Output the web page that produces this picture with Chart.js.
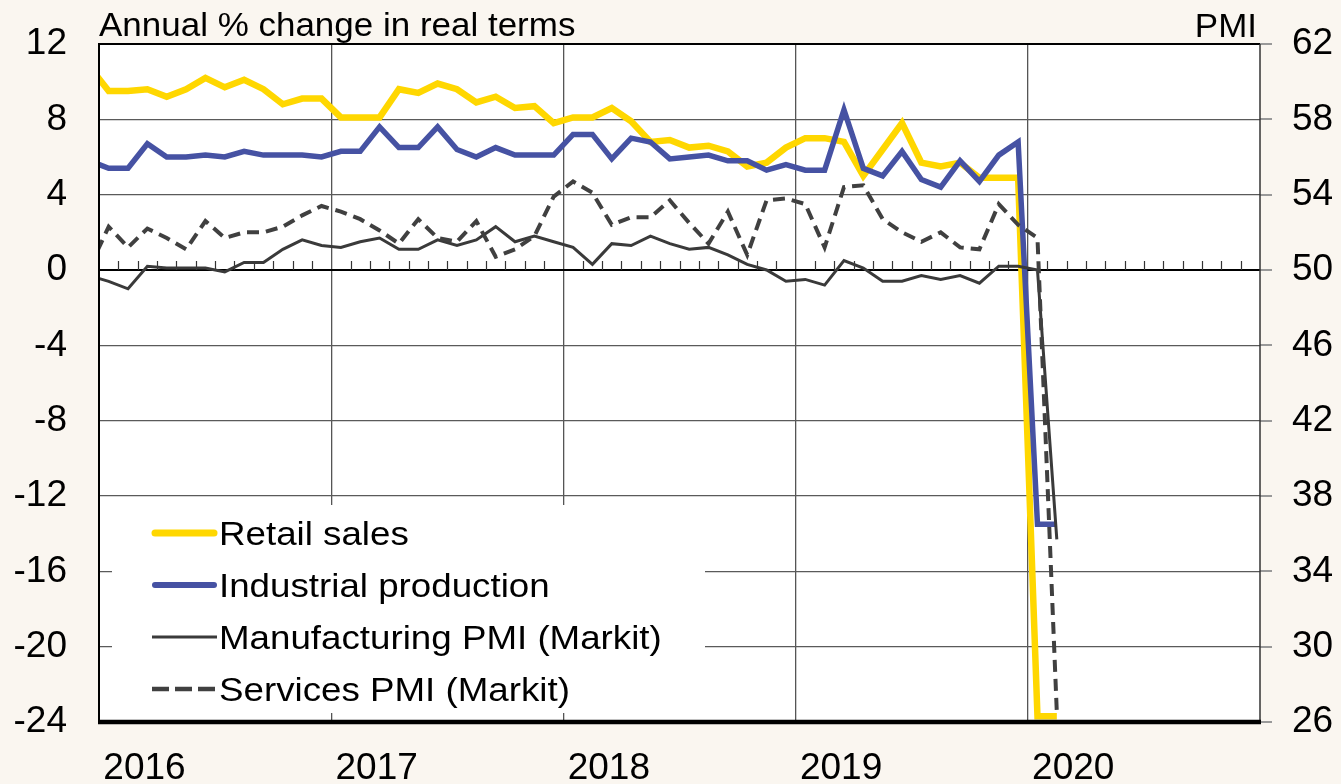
<!DOCTYPE html>
<html>
<head>
<meta charset="utf-8">
<script src="https://cdn.jsdelivr.net/npm/chart.js@4.4.1/dist/chart.umd.min.js"></script>
<style>
  html, body { margin: 0; padding: 0; background: #faf6f0; }
  canvas { display: block; }
</style>
</head>
<body>
<canvas id="chart" width="1341" height="784"></canvas>
<script>
// months of the series (Dec 2015 sits just left of the axis and gets clipped)
const months = [
  '2015-12',
  '2016-01', '2016-02', '2016-03', '2016-04', '2016-05', '2016-06', '2016-07', '2016-08', '2016-09', '2016-10', '2016-11', '2016-12',
  '2017-01', '2017-02', '2017-03', '2017-04', '2017-05', '2017-06', '2017-07', '2017-08', '2017-09', '2017-10', '2017-11', '2017-12',
  '2018-01', '2018-02', '2018-03', '2018-04', '2018-05', '2018-06', '2018-07', '2018-08', '2018-09', '2018-10', '2018-11', '2018-12',
  '2019-01', '2019-02', '2019-03', '2019-04', '2019-05', '2019-06', '2019-07', '2019-08', '2019-09', '2019-10', '2019-11', '2019-12',
  '2020-01', '2020-02'
];
const years = ['2016', '2017', '2018', '2019', '2020'];

// annual % change in real terms (left axis)
const retailSales = [
  10.8,
  9.5, 9.5, 9.6, 9.2, 9.6, 10.2, 9.7, 10.1, 9.6, 8.8, 9.1, 9.1,
  8.1, 8.1, 8.1, 9.6, 9.4, 9.9, 9.6, 8.9, 9.2, 8.6, 8.7, 7.8,
  8.1, 8.1, 8.6, 7.9, 6.8, 6.9, 6.5, 6.6, 6.3, 5.5, 5.7, 6.5,
  7.0, 7.0, 6.8, 5.0, 6.4, 7.8, 5.7, 5.5, 5.7, 4.9, 4.9, 4.9,
  -23.7, -23.7
];
const industrialProduction = [
  5.8,
  5.4, 5.4, 6.7, 6.0, 6.0, 6.1, 6.0, 6.3, 6.1, 6.1, 6.1, 6.0,
  6.3, 6.3, 7.6, 6.5, 6.5, 7.6, 6.4, 6.0, 6.5, 6.1, 6.1, 6.1,
  7.2, 7.2, 5.9, 7.0, 6.8, 5.9, 6.0, 6.1, 5.8, 5.8, 5.3, 5.6,
  5.3, 5.3, 8.5, 5.4, 5.0, 6.3, 4.8, 4.4, 5.8, 4.7, 6.1, 6.8,
  -13.5, -13.5
];

// PMI levels (right axis)
const manufacturingPMI = [
  49.7,
  49.4, 49.0, 50.2, 50.1, 50.1, 50.1, 49.9, 50.4, 50.4, 51.1, 51.6, 51.3,
  51.2, 51.5, 51.7, 51.1, 51.1, 51.6, 51.3, 51.6, 52.3, 51.5, 51.8, 51.5,
  51.2, 50.3, 51.4, 51.3, 51.8, 51.4, 51.1, 51.2, 50.8, 50.3, 50.0, 49.4,
  49.5, 49.2, 50.5, 50.1, 49.4, 49.4, 49.7, 49.5, 49.7, 49.3, 50.2, 50.2,
  50.0, 35.7
];
const servicesPMI = [
  50.1,
  52.3, 51.2, 52.2, 51.7, 51.1, 52.6, 51.7, 52.0, 52.0, 52.3, 52.9, 53.4,
  53.1, 52.7, 52.1, 51.4, 52.7, 51.7, 51.5, 52.6, 50.7, 51.1, 51.8, 53.9,
  54.7, 54.1, 52.4, 52.8, 52.8, 53.7, 52.5, 51.4, 53.1, 50.8, 53.7, 53.8,
  53.5, 51.2, 54.4, 54.5, 52.7, 52.0, 51.5, 52.0, 51.2, 51.1, 53.5, 52.4,
  51.7, 26.5
];

const seriesNames = ['Retail sales', 'Industrial production', 'Manufacturing PMI (Markit)', 'Services PMI (Markit)'];
const seriesColors = ['#ffd700', '#4652a3', '#3a3a3a', '#404040'];

const FONT = '"Liberation Sans", Arial, sans-serif';

// month string -> position on the month axis (centre of the month)
function monthPos(m) {
  const [yr, mo] = m.split('-').map(Number);
  return (yr - 2016) * 12 + (mo - 1) + 0.5;
}
function points(values) {
  return values.map((v, i) => ({ x: monthPos(months[i]), y: v }));
}

function stretchText(ctx, text, x, y, sx, align) {
  ctx.save();
  ctx.translate(x, y);
  ctx.scale(sx, 1);
  ctx.textAlign = align || 'left';
  ctx.fillText(text, 0, 0);
  ctx.restore();
}

function noPadding(scale) {
  scale.paddingTop = 0;
  scale.paddingBottom = 0;
  scale.paddingLeft = 0;
  scale.paddingRight = 0;
}

const decorations = {
  id: 'decorations',
  beforeDraw(chart) {
    const { ctx, chartArea: a } = chart;
    ctx.save();
    ctx.fillStyle = '#faf6f0';
    ctx.fillRect(0, 0, chart.width, chart.height);
    ctx.fillStyle = '#ffffff';
    ctx.fillRect(a.left, a.top, a.right - a.left, a.bottom - a.top);
    ctx.restore();
  },
  beforeDatasetsDraw(chart) {
    const { ctx, scales } = chart;
    ctx.save();
    // legend panel hides the grid
    ctx.fillStyle = '#ffffff';
    ctx.fillRect(112, 505, 593, 208);
    // month ticks sitting on the zero line
    const y0 = scales.y.getPixelForValue(0);
    ctx.strokeStyle = '#333333';
    ctx.lineWidth = 1.2;
    ctx.beginPath();
    for (let m = 1; m < 60; m++) {
      if (m % 12 === 0) continue;
      const px = Math.round(scales.x.getPixelForValue(m)) + 0.5;
      ctx.moveTo(px, y0);
      ctx.lineTo(px, y0 - 9);
    }
    ctx.stroke();
    ctx.restore();
  },
  afterDatasetsDraw(chart) {
    const { ctx, chartArea: a } = chart;
    ctx.save();
    // frame
    ctx.strokeStyle = '#000';
    ctx.lineWidth = 2;
    ctx.beginPath();
    ctx.moveTo(a.left, a.bottom);
    ctx.lineTo(a.left, a.top);
    ctx.lineTo(a.right, a.top);
    ctx.stroke();
    ctx.strokeStyle = '#333';
    ctx.lineWidth = 1.5;
    ctx.beginPath();
    ctx.moveTo(a.right, a.top);
    ctx.lineTo(a.right, a.bottom);
    ctx.stroke();
    ctx.strokeStyle = '#000';
    ctx.lineWidth = 4.5;
    ctx.beginPath();
    ctx.moveTo(a.left - 1, a.bottom);
    ctx.lineTo(a.right + 1, a.bottom);
    ctx.stroke();

    // legend
    const rows = [533, 585, 637, 689];
    const widths = [7, 6, 3, 4.5];
    rows.forEach((ry, i) => {
      ctx.strokeStyle = seriesColors[i];
      ctx.lineWidth = widths[i];
      ctx.lineCap = i < 2 ? 'round' : 'butt';
      ctx.setLineDash(i === 3 ? [17, 6] : []);
      ctx.beginPath();
      ctx.moveTo(i < 2 ? 155 : 152, ry);
      ctx.lineTo(i < 2 ? 214 : 217, ry);
      ctx.stroke();
      ctx.setLineDash([]);
      ctx.fillStyle = '#000';
      ctx.font = '34px ' + FONT;
      stretchText(ctx, seriesNames[i], 219, ry + 12, 1.08, 'left');
    });

    // axis titles
    ctx.fillStyle = '#000';
    ctx.font = '33px ' + FONT;
    stretchText(ctx, 'Annual % change in real terms', 99, 36, 1.06, 'left');
    stretchText(ctx, 'PMI', 1257, 37, 1.06, 'right');
    ctx.restore();
  }
};

const yearLabelOffset = 2.35;

new Chart(document.getElementById('chart'), {
  type: 'line',
  data: {
    datasets: [
      {
        label: seriesNames[0],
        data: points(retailSales),
        yAxisID: 'y',
        borderColor: seriesColors[0],
        borderWidth: 6.5,
        order: 4
      },
      {
        label: seriesNames[1],
        data: points(industrialProduction),
        yAxisID: 'y',
        borderColor: seriesColors[1],
        borderWidth: 5.5,
        order: 3
      },
      {
        label: seriesNames[2],
        data: points(manufacturingPMI),
        yAxisID: 'y2',
        borderColor: seriesColors[2],
        borderWidth: 3,
        order: 2
      },
      {
        label: seriesNames[3],
        data: points(servicesPMI),
        yAxisID: 'y2',
        borderColor: seriesColors[3],
        borderWidth: 4,
        borderDash: [12, 7],
        order: 1
      }
    ]
  },
  options: {
    responsive: false,
    animation: false,
    events: [],
    layout: { padding: { top: 44, bottom: 0, left: 0, right: 0 } },
    elements: {
      point: { radius: 0 },
      line: { tension: 0, fill: false }
    },
    datasets: { line: { clip: 0 } },
    plugins: {
      legend: { display: false },
      tooltip: { enabled: false }
    },
    scales: {
      x: {
        type: 'linear',
        min: 0,
        max: 60,
        afterBuildTicks(scale) {
          const t = [];
          for (let k = 0; k <= 5; k++) {
            t.push({ value: k * 12 });
            if (k < 5) t.push({ value: k * 12 + yearLabelOffset });
          }
          scale.ticks = t;
        },
        afterFit(scale) { scale.height = 62; noPadding(scale); },
        border: { display: false },
        grid: {
          drawTicks: false,
          color: (c) => {
            const v = c.tick ? c.tick.value : 0;
            return (v % 12 === 0 && v > 0 && v < 60) ? '#555555' : 'rgba(0,0,0,0)';
          },
          lineWidth: 1.3
        },
        ticks: {
          autoSkip: false,
          maxRotation: 0,
          padding: 25,
          color: '#000',
          font: { family: FONT, size: 37 },
          callback: (v) => (v % 12 === 0 ? '' : years[Math.floor(v / 12)])
        }
      },
      y: {
        position: 'left',
        min: -24,
        max: 12,
        afterFit(scale) { scale.width = 99; noPadding(scale); },
        border: { display: false },
        grid: {
          drawTicks: false,
          color: (c) => {
            const v = c.tick ? c.tick.value : 0;
            if (v === 12 || v === -24) return 'rgba(0,0,0,0)';
            return v === 0 ? '#000000' : '#5a5a5a';
          },
          lineWidth: (c) => (c.tick && c.tick.value === 0 ? 2 : 1.3)
        },
        ticks: {
          stepSize: 4,
          padding: 32,
          color: '#000',
          font: { family: FONT, size: 37 }
        }
      },
      y2: {
        position: 'right',
        min: 26,
        max: 62,
        afterFit(scale) { scale.width = 81; noPadding(scale); },
        border: { display: false },
        grid: {
          drawOnChartArea: false,
          drawTicks: true,
          tickLength: 12,
          color: '#999999',
          lineWidth: 2
        },
        ticks: {
          stepSize: 4,
          padding: 20,
          color: '#000',
          font: { family: FONT, size: 37 }
        }
      }
    }
  },
  plugins: [decorations]
});
</script>
</body>
</html>
